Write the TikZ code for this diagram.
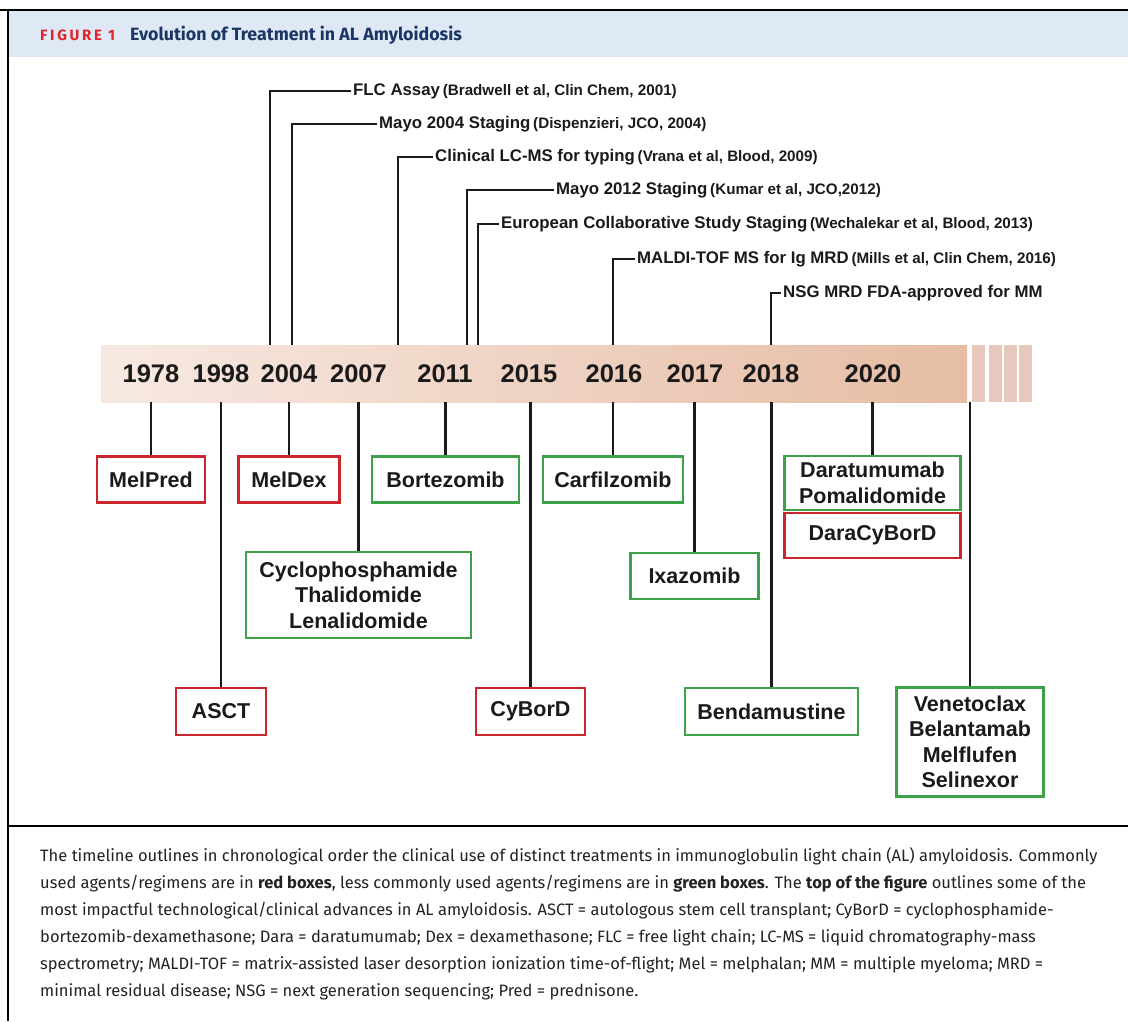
\documentclass[tikz,border=0pt]{standalone}
\usepackage{fontspec}
\setmainfont{Liberation Sans}
\newfontfamily\capfont{Fira Sans}
\usetikzlibrary{positioning}
\definecolor{ink}{HTML}{1A1A1A}
\definecolor{boxred}{HTML}{C9252D}
\definecolor{boxgreen}{HTML}{3DA247}
\definecolor{headblue}{HTML}{DEE9F5}
\definecolor{headnavy}{HTML}{1B3564}
\definecolor{figred}{HTML}{E2232A}
\definecolor{barleft}{HTML}{F7E9E2}
\definecolor{barright}{HTML}{E6BCA4}
\definecolor{stripe}{HTML}{E8C7BC}
\definecolor{captext}{HTML}{222222}
\newcommand\bxfont{\fontsize{21.5}{25.5}\selectfont\bfseries}
\newcommand\yrfont{\fontsize{25.5}{28}\selectfont\bfseries}
\newcommand\evlabel[2]{{\fontsize{16.8}{19}\selectfont\bfseries #1} {\fontsize{15.2}{17}\selectfont\bfseries #2}}
\tikzset{
  conn/.style={draw=ink, line width=2.4pt},
  frame/.style={draw=black, line width=2.4pt},
  rbox/.style={draw=boxred, line width=2.5pt, inner sep=0pt, align=center, font=\bxfont, text=ink},
  gbox/.style={draw=boxgreen, line width=2.5pt, inner sep=0pt, align=center, font=\bxfont, text=ink},
  yearlbl/.style={font=\yrfont, text=ink, inner sep=0pt},
  evt/.style={anchor=west, inner sep=2pt, text=ink},
}
\begin{document}
\begin{tikzpicture}[x=1pt,y=-1pt]
\useasboundingbox (0,0) rectangle (1128,1021);
% header
\fill[headblue] (9,11) rectangle (1128,57);
\node[anchor=west, inner sep=0pt, text=figred, font=\capfont\fontsize{15}{17}\selectfont\bfseries\addfontfeatures{LetterSpace=18}] (fig) at (40,35) {FIGURE 1};
\node[anchor=west, inner sep=0pt, text=headnavy, font=\capfont\fontsize{17.8}{20}\selectfont\bfseries] (title) at (130,35) {Evolution of Treatment in AL Amyloidosis};
\draw[frame] (0,10) -- (1128,10);
\draw[frame] (8,9) -- (8,1021);
\draw[frame] (8,826) -- (1128,826);

% timeline bar
\node[minimum width=866pt, minimum height=57pt, inner sep=0pt, left color=barleft, right color=barright, draw=none] (bar) at (534,373.5) {};
\foreach \sx in {972,988.5,1003.5,1018.5}
  \fill[stripe] (\sx,345) rectangle ++(13,57);

% years
\foreach \yx/\yr in {151/1978,221/1998,289/2004,358.5/2007,445/2011,529/2015,614/2016,695/2017,771/2018,873/2020}
  \node[yearlbl] (y\yr) at (\yx,374) {\yr};

% top events
\node[evt] (flc) at (351,91) {\evlabel{FLC Assay}{(Bradwell et al, Clin Chem, 2001)}};
\node[evt] (m04) at (377,124) {\evlabel{Mayo 2004 Staging}{(Dispenzieri, JCO, 2004)}};
\node[evt] (lcms) at (433,157) {\evlabel{Clinical LC-MS for typing}{(Vrana et al, Blood, 2009)}};
\node[evt] (m12) at (554,190) {\evlabel{Mayo 2012 Staging}{(Kumar et al, JCO,2012)}};
\node[evt] (eur) at (499,224) {\evlabel{European Collaborative Study Staging}{(Wechalekar et al, Blood, 2013)}};
\node[evt] (maldi) at (635,259) {\evlabel{MALDI-TOF MS for Ig MRD}{(Mills et al, Clin Chem, 2016)}};
\node[evt] (nsg) at (781,293) {\evlabel{NSG MRD FDA-approved for MM}{}};

\coordinate (e1) at (270,345);
\coordinate (e2) at (292,345);
\coordinate (e3) at (398,345);
\coordinate (e4) at (467,345);
\coordinate (e5) at (478,345);
\coordinate (e6) at (613,345);
\coordinate (e7) at (771,345);
\draw[conn] (e1) |- (flc.west);
\draw[conn] (e2) |- (m04.west);
\draw[conn] (e3) |- (lcms.west);
\draw[conn] (e4) |- (m12.west);
\draw[conn] (e5) |- (eur.west);
\draw[conn] (e6) |- (maldi.west);
\draw[conn] (e7) |- (nsg.west);

% treatment boxes
\node[rbox, minimum width=108pt, minimum height=46pt] (melpred) at (151,479.5) {MelPred};
\node[rbox, minimum width=90pt, minimum height=47pt] (asct) at (221,711.5) {ASCT};
\node[rbox, minimum width=101pt, minimum height=46pt] (meldex) at (289,479.5) {MelDex};
\node[gbox, minimum width=225pt, minimum height=86pt] (ctl) at (358.5,595) {Cyclophosphamide\\Thalidomide\\Lenalidomide};
\node[gbox, minimum width=147pt, minimum height=46pt] (bort) at (445.5,479.5) {Bortezomib};
\node[rbox, minimum width=109pt, minimum height=47pt] (cybord) at (530.5,711.5) {CyBorD};
\node[gbox, minimum width=140pt, minimum height=46pt] (carf) at (613,479.5) {Carfilzomib};
\node[gbox, minimum width=128pt, minimum height=46pt] (ixa) at (694.5,576) {Ixazomib};
\node[gbox, minimum width=173pt, minimum height=47pt] (benda) at (771.5,711.5) {Bendamustine};
\node[gbox, minimum width=176pt, minimum height=54pt] (dara) at (872.5,483) {Daratumumab\\Pomalidomide};
\node[rbox, minimum width=176pt, minimum height=45pt] (dcb) at (872.5,535.5) {DaraCyBorD};
\node[gbox, minimum width=147pt, minimum height=109pt] (vene) at (970,742) {Venetoclax\\Belantamab\\Melflufen\\Selinexor};

\foreach \b in {melpred,asct,meldex,ctl,bort,cybord,carf,ixa,benda,dara,vene}
  \draw[conn] (\b.north |- bar.south) -- (\b.north);

% caption
\node[anchor=north west, inner sep=0pt, align=left, text=captext, font=\capfont\fontsize{16.5}{27}\selectfont] (cap) at (40,847) {The timeline outlines in chronological order the clinical use of distinct treatments in immunoglobulin light chain (AL) amyloidosis. Commonly\\
used agents/regimens are in \textbf{red boxes}, less commonly used agents/regimens are in \textbf{green boxes}. The \textbf{top of the figure} outlines some of the\\
most impactful technological/clinical advances in AL amyloidosis. ASCT = autologous stem cell transplant; CyBorD = cyclophosphamide-\\
bortezomib-dexamethasone; Dara = daratumumab; Dex = dexamethasone; FLC = free light chain; LC-MS = liquid chromatography-mass\\
spectrometry; MALDI-TOF = matrix-assisted laser desorption ionization time-of-flight; Mel = melphalan; MM = multiple myeloma; MRD =\\
minimal residual disease; NSG = next generation sequencing; Pred = prednisone.};
\end{tikzpicture}
\end{document}
